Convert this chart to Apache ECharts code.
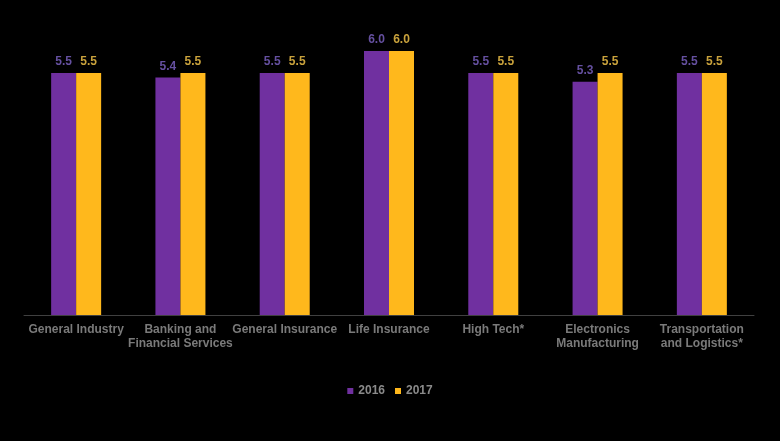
<!DOCTYPE html>
<html>
<head>
<meta charset="utf-8">
<script src="https://cdn.jsdelivr.net/npm/echarts@6/dist/echarts.min.js"></script>
<style>
html,body{margin:0;padding:0;background:#000;}
#main{width:780px;height:441px;}
</style>
</head>
<body>
<div id="main"></div>
<script>
var categories = ['General Industry', 'Banking and\nFinancial Services', 'General Insurance', 'Life Insurance',
	'High Tech*', 'Electronics\nManufacturing', 'Transportation\nand Logistics*'];
var values2016 = [5.5, 5.4, 5.5, 6.0, 5.5, 5.3, 5.5];
var values2017 = [5.5, 5.5, 5.5, 6.0, 5.5, 5.5, 5.5];

var myChart = echarts.init(document.getElementById('main'));

var option = {
	backgroundColor: '#000',
	animation: false,
	grid: {left: 24, right: 26, top: 51, bottom: 126},
	legend: {
		bottom: 39,
		left: 'center',
		itemWidth: 6,
		itemHeight: 6,
		itemGap: 10,
		icon: 'rect',
		textStyle: {color: '#8a8a8a', fontSize: 12, fontWeight: 'bold', fontFamily: 'Liberation Sans'},
		data: ['2016', '2017']
	},
	xAxis: {
		type: 'category',
		data: categories,
		axisLine: {lineStyle: {color: '#404040', width: 1}},
		axisTick: {show: false},
		axisLabel: {
			color: '#7a7a7a',
			fontSize: 12,
			fontWeight: 'bold',
			fontFamily: 'Liberation Sans',
			interval: 0,
			margin: 8,
			lineHeight: 14
		}
	},
	yAxis: {
		type: 'value',
		min: 0,
		max: 6,
		show: false,
		splitLine: {show: false}
	},
	series: [
		{
			name: '2016',
			type: 'bar',
			data: values2016,
			barWidth: 25,
			barGap: '0%',
			itemStyle: {color: '#7030a0'},
			label: {
				show: true,
				position: 'top',
				distance: 5,
				formatter: function (p) { return p.value.toFixed(1); },
				color: '#6550a0',
				fontSize: 12,
				fontWeight: 'bold',
				fontFamily: 'Liberation Sans'
			}
		},
		{
			name: '2017',
			type: 'bar',
			data: values2017,
			barWidth: 25,
			barGap: '0%',
			itemStyle: {color: '#ffb81c'},
			label: {
				show: true,
				position: 'top',
				distance: 5,
				formatter: function (p) { return p.value.toFixed(1); },
				color: '#c9a23c',
				fontSize: 12,
				fontWeight: 'bold',
				fontFamily: 'Liberation Sans'
			}
		}
	]
};

myChart.setOption(option);
</script>
</body>
</html>
